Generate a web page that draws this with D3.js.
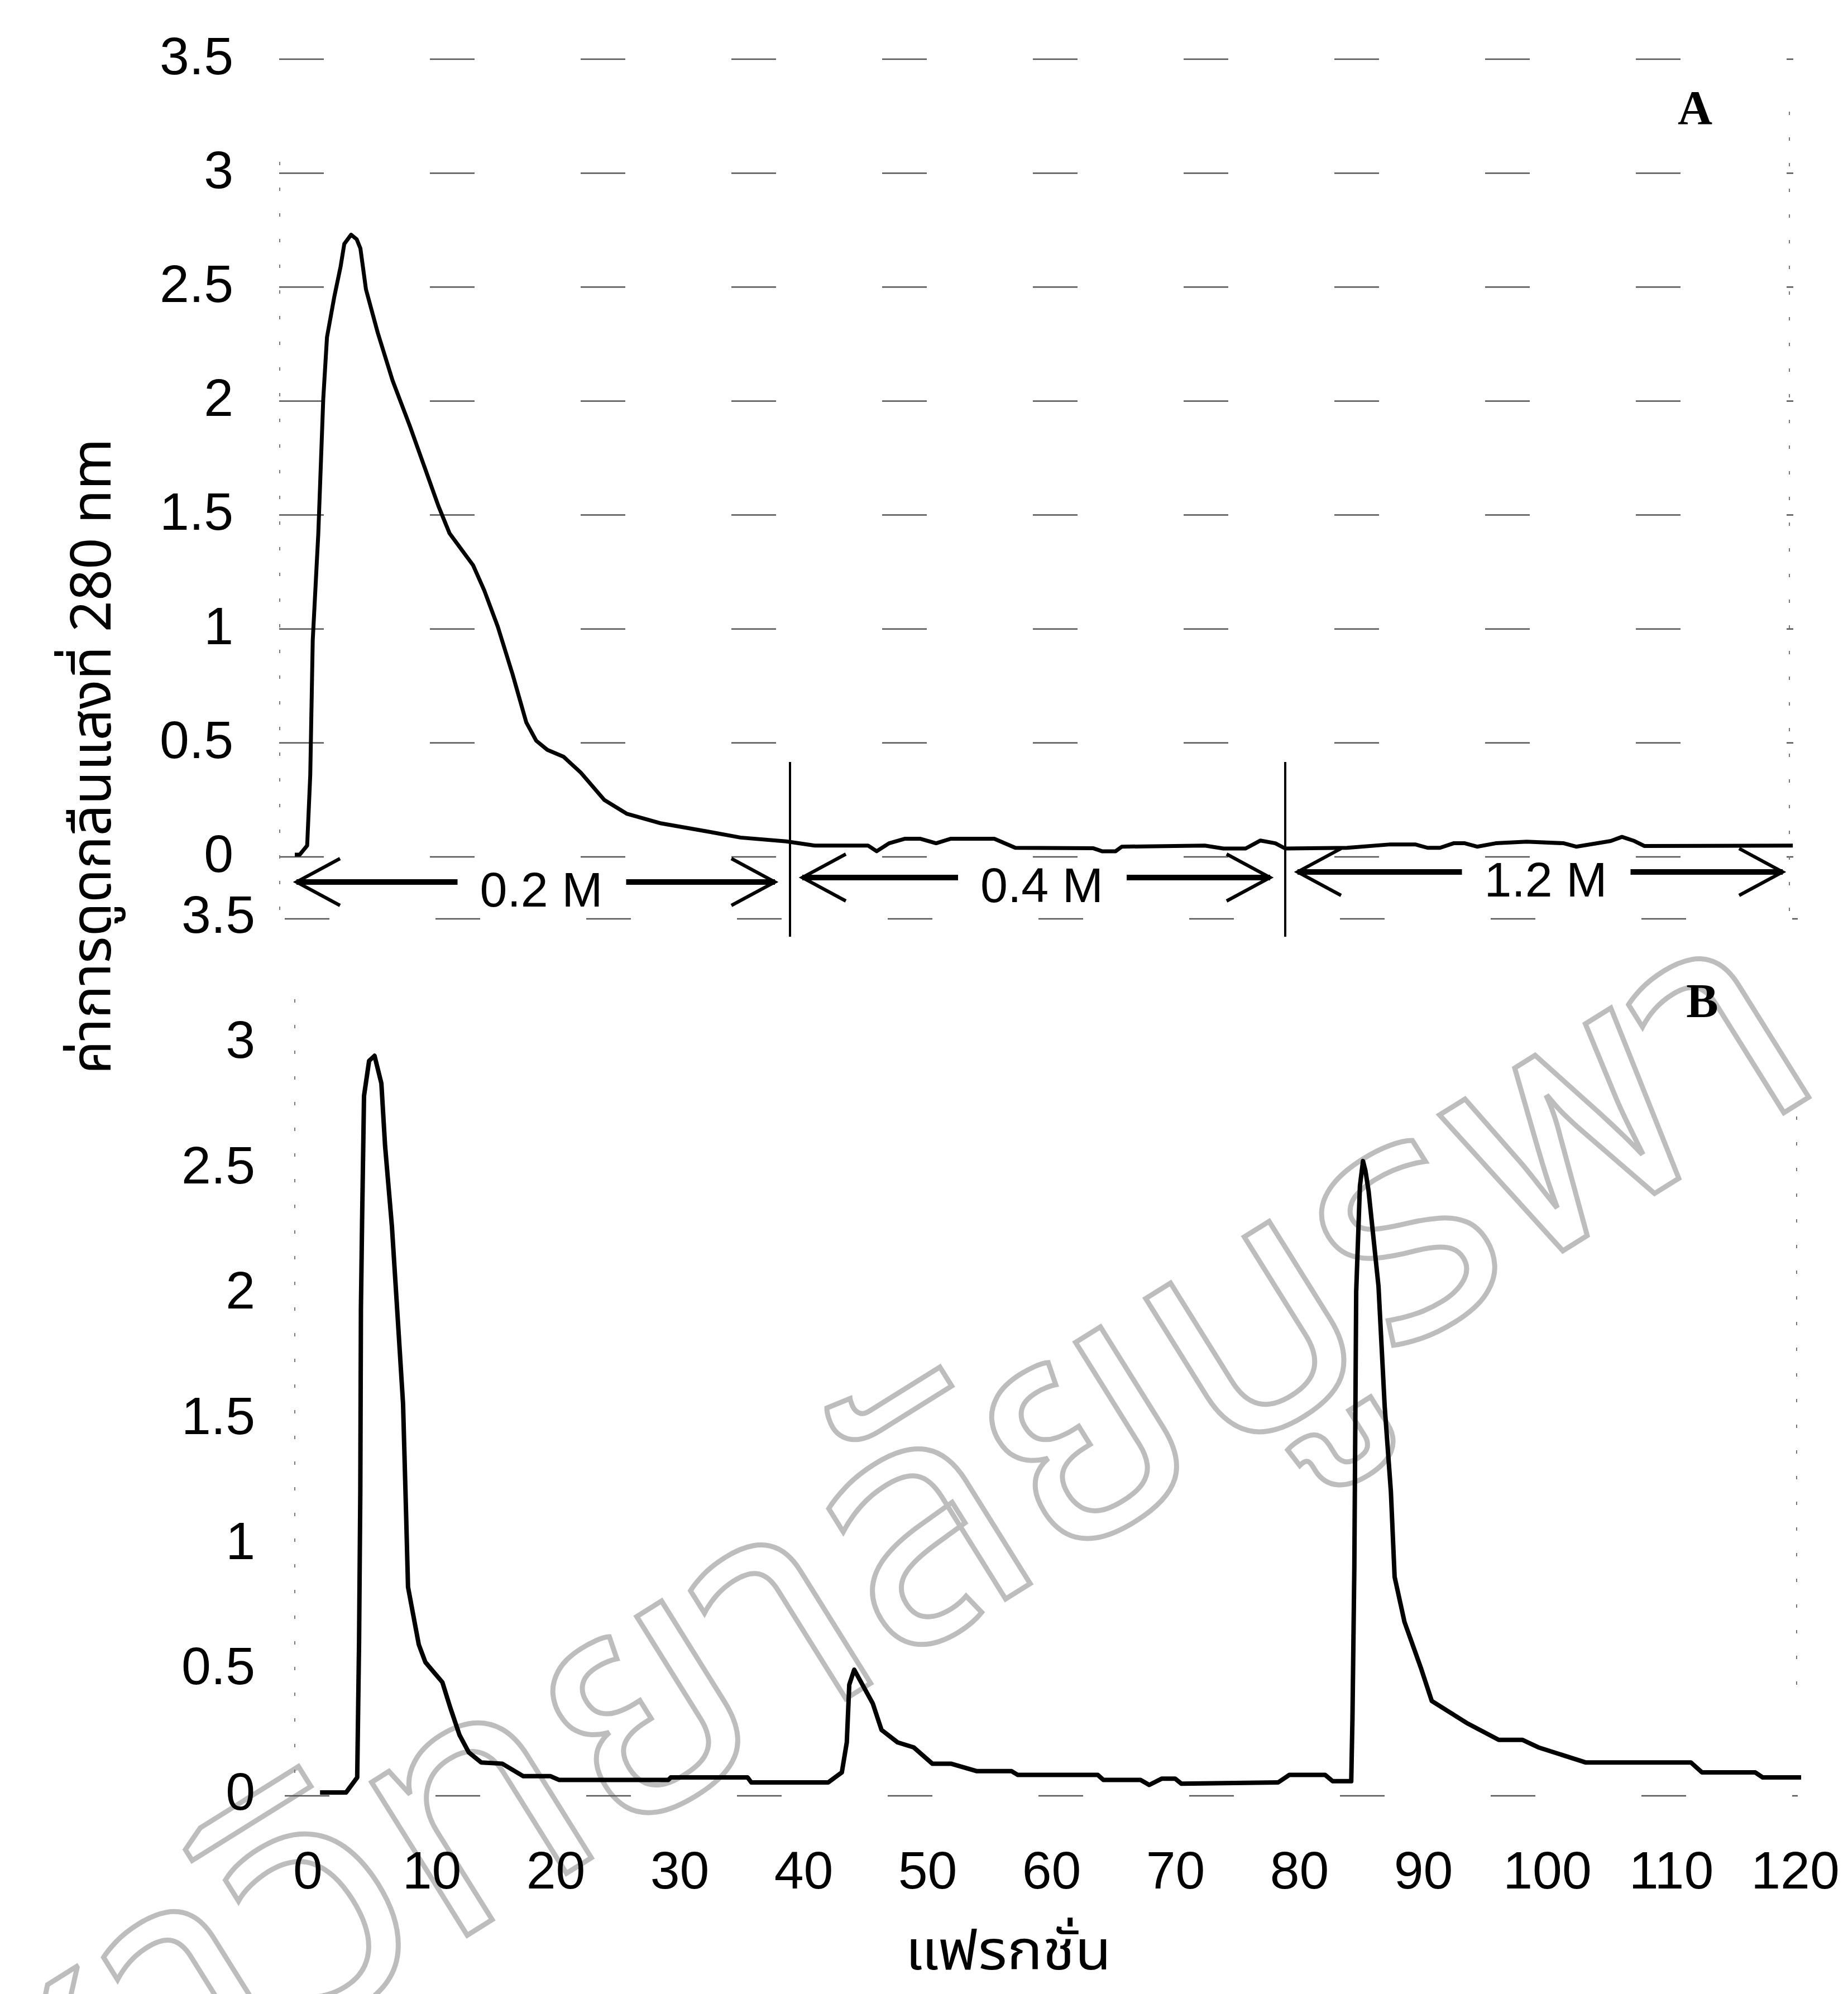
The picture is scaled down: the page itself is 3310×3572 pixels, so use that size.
<!DOCTYPE html>
<html>
<head>
<meta charset="utf-8">
<script src="https://cdn.jsdelivr.net/npm/d3@7"></script>
<style>
  html, body { margin: 0; padding: 0; background: #fff; }
  svg { display: block; }
</style>
</head>
<body>
<div id="chart"></div>
<script>
// tick values
const xTickValues = [0, 10, 20, 30, 40, 50, 60, 70, 80, 90, 100, 110, 120];
const yTickValues = [0, 0.5, 1, 1.5, 2, 2.5, 3, 3.5];

// panel A : [fraction, absorbance]
const seriesA = [
  [0, 0], [0.4, 0], [1.0, 0.04], [1.25, 0.35], [1.45, 0.94], [1.9, 1.41], [2.3, 2.0],
  [2.6, 2.27], [3.2, 2.45], [3.7, 2.58], [4.0, 2.68], [4.55, 2.72], [5.0, 2.70], [5.3, 2.66],
  [5.75, 2.48], [6.7, 2.29], [7.9, 2.08], [9.3, 1.88], [11.6, 1.53], [12.5, 1.41], [14.4, 1.27],
  [15.3, 1.16], [16.4, 1.0], [17.6, 0.79], [18.7, 0.58], [19.5, 0.5], [20.4, 0.46], [21.7, 0.43],
  [23.1, 0.36], [25, 0.24], [26.8, 0.18], [29.6, 0.137], [31.4, 0.12], [33.7, 0.098], [36, 0.075],
  [39.7, 0.058], [42, 0.04], [46.3, 0.04], [47, 0.015], [48, 0.05], [49.3, 0.07], [50.5, 0.07],
  [51.8, 0.05], [53, 0.07], [56.5, 0.07], [58.2, 0.03], [64.5, 0.028], [65.2, 0.015], [66.3, 0.015],
  [66.8, 0.035], [73.5, 0.04], [75, 0.027], [76.8, 0.027], [78, 0.062], [79.2, 0.05], [80, 0.027],
  [85, 0.03], [88.5, 0.045], [90.5, 0.045], [91.5, 0.03], [92.5, 0.03], [93.6, 0.05], [94.5, 0.05],
  [95.5, 0.035], [97, 0.05], [99.5, 0.057], [102.5, 0.05], [103.5, 0.035], [106.3, 0.06],
  [107.2, 0.078], [108.2, 0.06], [109, 0.038], [121, 0.04]
];

// panel B : [fraction, absorbance]
const seriesB = [
  [1, 0], [3.1, 0], [4.0, 0.06], [4.15, 0.6], [4.25, 1.2], [4.3, 1.93], [4.4, 2.3], [4.55, 2.78],
  [4.96, 2.92], [5.4, 2.94], [5.95, 2.83], [6.25, 2.58], [6.8, 2.26], [7.26, 1.90], [7.7, 1.55],
  [7.94, 1.12], [8.1, 0.82], [8.97, 0.59], [9.5, 0.52], [10.87, 0.44], [11.5, 0.34], [12.25, 0.23],
  [13, 0.16], [14.0, 0.12], [15.7, 0.115], [17.4, 0.065], [19.6, 0.065], [20.3, 0.05], [29.1, 0.05],
  [29.3, 0.06], [35.5, 0.06], [35.8, 0.04], [42, 0.04], [43.1, 0.08], [43.5, 0.20], [43.7, 0.43],
  [44.1, 0.49], [45.6, 0.355], [46.3, 0.25], [47.6, 0.20], [48.9, 0.18], [50.4, 0.115], [51.9, 0.115],
  [54, 0.085], [56.8, 0.085], [57.3, 0.07], [63.75, 0.07], [64.2, 0.05], [67.2, 0.05], [67.9, 0.03],
  [68.9, 0.055], [70, 0.055], [70.5, 0.035], [78.3, 0.04], [79.2, 0.07], [82.1, 0.07], [82.7, 0.045],
  [84.2, 0.045], [84.3, 0.3], [84.45, 0.9], [84.6, 2.0], [84.9, 2.42], [85.15, 2.52], [85.35, 2.48],
  [85.6, 2.40], [86.4, 2.02], [86.9, 1.54], [87.4, 1.20], [87.7, 0.86], [88.5, 0.68], [89.8, 0.50],
  [90.7, 0.365], [93.6, 0.275], [96.1, 0.21], [98, 0.21], [99.3, 0.18], [103.1, 0.12], [111.6, 0.12],
  [112.5, 0.08], [116.8, 0.08], [117.4, 0.06], [120.5, 0.06]
];

// salt steps (panel A)
const saltLabels = ["0.2 M", "0.4 M", "1.2 M"];
const saltBounds = [0, 40, 80, 120];

const yTitle = "ค่าการดูดกลืนแสงที่ 280 nm";
const xTitle = "แฟรกชั่น";
const watermark = "มหาวิทยาลัยบูรพา";

const W = 3310, H = 3572;
const thaiFont = "'Noto Sans Thai', 'Loma', 'Garuda', 'Norasi', 'Tlwg Typo', 'DejaVu Sans', sans-serif";
const numFont = "'Liberation Sans', Arial, sans-serif";

const svg = d3.select("#chart").append("svg")
  .attr("width", W).attr("height", H)
  .attr("viewBox", [0, 0, W, H]);

svg.append("rect").attr("width", W).attr("height", H).attr("fill", "#fff");

// scales
const xA = d3.scaleLinear().domain([0, 120]).range([528, 3189]);
const yA = d3.scaleLinear().domain([0, 3.5]).range([1531, 102]);
const xB = d3.scaleLinear().domain([0, 120]).range([551, 3215]);
const yB = d3.scaleLinear().domain([0, 3.5]).range([3211, 1640]);

// watermark (behind everything), anchored on the "ล" glyph
const wm = svg.append("text")
  .attr("font-family", thaiFont)
  .attr("font-size", 590)
  .attr("fill", "none")
  .attr("stroke", "#bdbdbd")
  .attr("stroke-width", 9)
  .text(watermark);
const wmOffset = wm.node().getSubStringLength(0, 8);
wm.attr("x", -wmOffset).attr("y", 0)
  .attr("transform", "translate(1600,2990) rotate(-32)");

const dash = "80,190";

// panel A gridlines (dashed)
svg.append("g").selectAll("line")
  .data(yTickValues)
  .join("line")
  .attr("x1", 500).attr("x2", 3212)
  .attr("y1", d => yA(d) + 4).attr("y2", d => yA(d) + 4)
  .attr("stroke", "#555").attr("stroke-width", 2.5)
  .attr("stroke-dasharray", dash);

// panel A side borders
svg.append("line").attr("x1", 501).attr("x2", 501).attr("y1", 290).attr("y2", 1660)
  .attr("stroke", "#777").attr("stroke-width", 2).attr("stroke-dasharray", "6,40");
svg.append("line").attr("x1", 3205).attr("x2", 3205).attr("y1", 200).attr("y2", 1670)
  .attr("stroke", "#777").attr("stroke-width", 2).attr("stroke-dasharray", "6,40");

// panel B dashed frame lines
[3.5, 0].forEach(v => {
  svg.append("line").attr("x1", 510).attr("x2", 3220)
    .attr("y1", yB(v) + 6).attr("y2", yB(v) + 6)
    .attr("stroke", "#555").attr("stroke-width", 2.5)
    .attr("stroke-dasharray", dash);
});
svg.append("line").attr("x1", 528).attr("x2", 528).attr("y1", 1790).attr("y2", 3215)
  .attr("stroke", "#777").attr("stroke-width", 2).attr("stroke-dasharray", "6,40");
svg.append("line").attr("x1", 3218).attr("x2", 3218).attr("y1", 2000).attr("y2", 3050)
  .attr("stroke", "#777").attr("stroke-width", 2).attr("stroke-dasharray", "6,40");

// curves
const lineA = d3.line().x(d => xA(d[0])).y(d => yA(d[1]));
const lineB = d3.line().x(d => xB(d[0])).y(d => yB(d[1]));

svg.append("path").datum(seriesA)
  .attr("d", lineA).attr("fill", "none")
  .attr("stroke", "#000").attr("stroke-width", 7)
  .attr("stroke-linejoin", "round");

svg.append("path").datum(seriesB)
  .attr("d", lineB).attr("fill", "none")
  .attr("stroke", "#000").attr("stroke-width", 8)
  .attr("stroke-linejoin", "round");

// y axes
const tickFmt = d3.format("~g");
function styleAxis(g) {
  g.select(".domain").remove();
  g.selectAll(".tick line").remove();
  g.selectAll(".tick text")
    .attr("font-family", numFont)
    .attr("font-size", 95)
    .attr("fill", "#000");
}

svg.append("g")
  .attr("transform", "translate(418,0)")
  .call(d3.axisLeft(yA).tickValues(yTickValues).tickFormat(tickFmt).tickSize(0).tickPadding(0))
  .call(styleAxis);

svg.append("g")
  .attr("transform", "translate(457,0)")
  .call(d3.axisLeft(yB).tickValues(yTickValues).tickFormat(tickFmt).tickSize(0).tickPadding(0))
  .call(styleAxis);

// x axis (panel B only)
svg.append("g")
  .attr("transform", "translate(0,3316)")
  .call(d3.axisBottom(xB).tickValues(xTickValues).tickFormat(tickFmt).tickSize(0).tickPadding(0))
  .call(styleAxis);

// salt-step arrows in panel A (the scan is slightly tilted)
const arrowYs = [1580, 1572, 1562];
const arrows = svg.append("g").attr("stroke", "#000").attr("fill", "none");
saltLabels.forEach((label, i) => {
  const lo = saltBounds[i], hi = saltBounds[i + 1];
  const left = xA(lo) + (i === 0 ? 3 : 22);
  const right = xA(hi) - (i === saltLabels.length - 1 ? -4 : 27);
  const mid = (left + right) / 2 + 10;
  const ay = arrowYs[i];

  arrows.append("line").attr("x1", left).attr("x2", mid - 150)
    .attr("y1", ay).attr("y2", ay).attr("stroke-width", 10);
  arrows.append("line").attr("x1", mid + 152).attr("x2", right)
    .attr("y1", ay).attr("y2", ay).attr("stroke-width", 10);

  arrows.append("path")
    .attr("d", `M${left + 78},${ay - 42}L${left},${ay}L${left + 78},${ay + 42}`)
    .attr("stroke-width", 6);
  arrows.append("path")
    .attr("d", `M${right - 78},${ay - 42}L${right},${ay}L${right - 78},${ay + 42}`)
    .attr("stroke-width", 6);

  svg.append("text")
    .attr("x", mid).attr("y", ay + 44)
    .attr("text-anchor", "middle")
    .attr("font-family", numFont)
    .attr("font-size", 88)
    .attr("fill", "#000")
    .text(label);
});

// separators at 40 and 80
svg.append("g").selectAll("line")
  .data(saltBounds.slice(1, 3))
  .join("line")
  .attr("x1", d => xA(d)).attr("x2", d => xA(d))
  .attr("y1", 1365).attr("y2", 1678)
  .attr("stroke", "#000").attr("stroke-width", 4);

// panel letters
svg.append("text").attr("x", 3036).attr("y", 222)
  .attr("text-anchor", "middle")
  .attr("font-family", "'Liberation Serif', 'Times New Roman', serif")
  .attr("font-weight", "bold").attr("font-size", 86)
  .text("A");
svg.append("text").attr("x", 3049).attr("y", 1822)
  .attr("text-anchor", "middle")
  .attr("font-family", "'Liberation Serif', 'Times New Roman', serif")
  .attr("font-weight", "bold").attr("font-size", 86)
  .text("B");

// axis titles
svg.append("text")
  .attr("transform", "translate(198,1355) rotate(-90)")
  .attr("text-anchor", "middle")
  .attr("font-family", thaiFont)
  .attr("font-size", 100)
  .attr("textLength", 1139)
  .attr("lengthAdjust", "spacingAndGlyphs")
  .attr("fill", "#000")
  .text(yTitle);

svg.append("text")
  .attr("x", 1806).attr("y", 3528)
  .attr("text-anchor", "middle")
  .attr("font-family", thaiFont)
  .attr("font-size", 98)
  .attr("textLength", 369)
  .attr("lengthAdjust", "spacingAndGlyphs")
  .attr("fill", "#000")
  .text(xTitle);
</script>
</body>
</html>
